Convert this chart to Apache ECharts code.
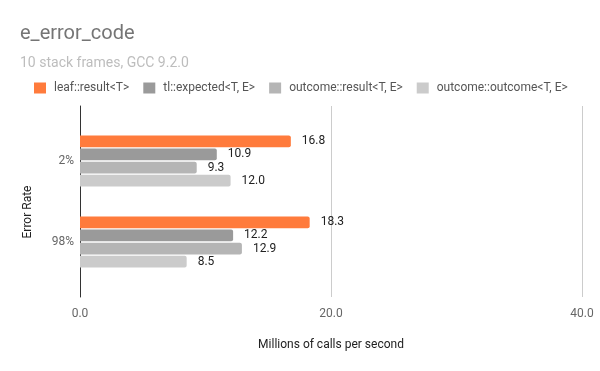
<!DOCTYPE html>
<html><head><meta charset="utf-8">
<script src="https://cdn.jsdelivr.net/npm/echarts@6/dist/echarts.min.js"></script>
<style>html,body{margin:0;padding:0;background:#fff}#c{width:600px;height:371px}</style>
</head><body><div id="c"></div>
<script>
const categories = ['2%', '98%'];
const seriesNames = ['leaf::result<T>', 'tl::expected<T, E>', 'outcome::result<T, E>', 'outcome::outcome<T, E>'];
const leafResult = [16.8, 18.3];
const tlExpected = [10.9, 12.2];
const outcomeResult = [9.3, 12.9];
const outcomeOutcome = [12.0, 8.5];
const xTicks = [0, 20, 40];
const colors = ['#ff7b3c', '#9a9a9a', '#b5b5b5', '#cbcbcb'];
const values = [leafResult, tlExpected, outcomeResult, outcomeOutcome];
const FONT = 'Roboto';
const chart = echarts.init(document.getElementById('c'), null, {renderer: 'canvas'});
chart.setOption({
  animation: false,
  textStyle: {fontFamily: FONT},
  title: {
    text: 'e_error_code', subtext: '10 stack frames, GCC 9.2.0',
    left: 15, top: 19, itemGap: 12,
    textStyle: {fontSize: 20, fontWeight: 'normal', color: '#757575', fontFamily: FONT},
    subtextStyle: {fontSize: 14, color: '#bdbdbd', fontFamily: FONT}
  },
  legend: {
    left: 29, top: 77, itemWidth: 12, itemHeight: 11, itemGap: 14,
    icon: 'rect',
    textStyle: {fontSize: 12, color: '#555', fontFamily: FONT, padding: [0, 0, 0, 3]},
    data: seriesNames
  },
  grid: [
    {left: 80, right: 18, top: 106, bottom: 74},
    {left: 80, right: 18, top: 120.5, bottom: 88.5}
  ],
  xAxis: [
    {gridIndex: 0, type: 'value', min: xTicks[0], max: xTicks[xTicks.length - 1], interval: 20,
     axisLine: {show: false}, axisTick: {show: false},
     splitLine: {lineStyle: {color: '#cccccc', width: 1}},
     axisLabel: {formatter: v => v.toFixed(1), color: '#666', fontSize: 12, margin: 11},
     name: 'Millions of calls per second', nameLocation: 'middle', nameGap: 42,
     nameTextStyle: {color: '#222', fontSize: 12}},
    {gridIndex: 1, type: 'value', min: 0, max: 40, show: false}
  ],
  yAxis: [
    {gridIndex: 0, type: 'category', data: [''], axisLabel: {show: false},
     axisTick: {show: false}, axisLine: {lineStyle: {color: '#333', width: 1}},
     name: 'Error Rate', nameLocation: 'middle', nameGap: 46,
     nameTextStyle: {color: '#222', fontSize: 12, padding: [0, 21, 0, 0]}},
    {gridIndex: 1, type: 'category', data: categories, inverse: true,
     axisLine: {show: false}, axisTick: {show: false},
     axisLabel: {color: '#666', fontSize: 12, margin: 6}}
  ],
  series: values.map((vals, i) => ({
    name: seriesNames[i], type: 'bar', xAxisIndex: 1, yAxisIndex: 1,
    data: vals, barGap: '11%', barCategoryGap: '37%',
    itemStyle: {color: colors[i], borderRadius: [0, 2, 2, 0]},
    label: {show: true, position: 'right', distance: 11, color: '#222', fontSize: 12,
      formatter: p => p.value.toFixed(1)}
  }))
});
</script></body></html>
